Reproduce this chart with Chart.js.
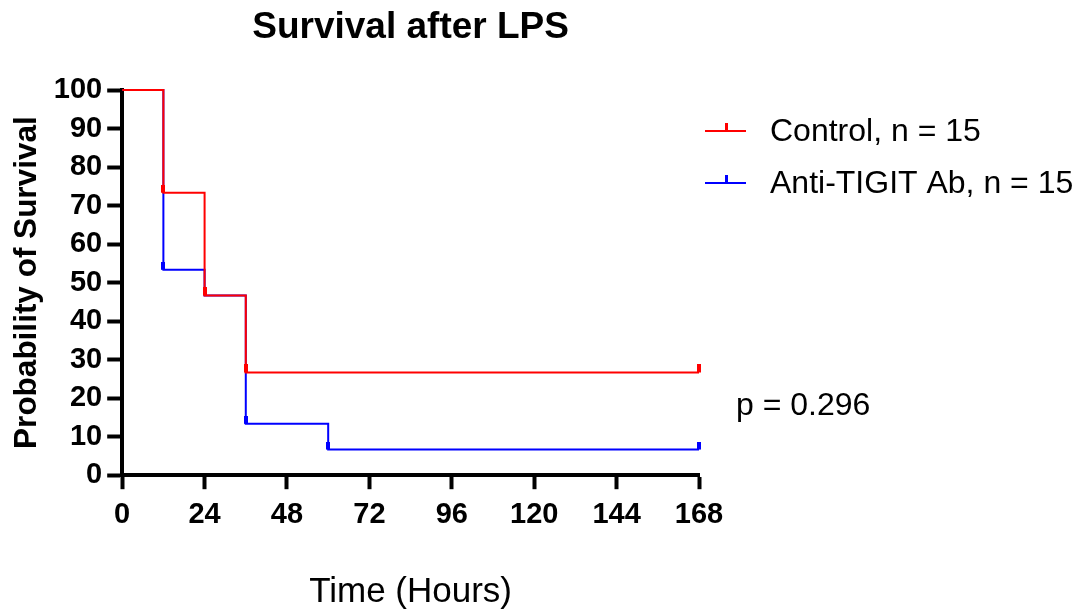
<!DOCTYPE html>
<html>
<head>
<meta charset="utf-8">
<script src="https://cdn.jsdelivr.net/npm/chart.js@4"></script>
<style>
  html, body { margin: 0; padding: 0; background: #fff; }
  #wrap { width: 1075px; height: 616px; }
</style>
</head>
<body>
<div id="wrap"><canvas id="survivalChart" width="1075" height="616"></canvas></div>
<script>
// Kaplan-Meier steps (hours, % surviving)
const controlTimes = [0, 12, 24, 36, 168];
const controlSurvival = [100, 73.33, 46.67, 26.67, 26.67];
const antiTimes = [0, 12, 24, 36, 60, 168];
const antiSurvival = [100, 53.33, 46.67, 13.33, 6.67, 6.67];

const seriesLabels = ['Control, n = 15', 'Anti-TIGIT Ab, n = 15'];
const seriesColors = ['#ff0000', '#0000ff'];
const pValueText = 'p = 0.296';

const xTicks = [0, 24, 48, 72, 96, 120, 144, 168];
const yTicks = [0, 10, 20, 30, 40, 50, 60, 70, 80, 90, 100];

const FONT = "'Liberation Sans', Arial, Helvetica, sans-serif";

// censor tick: small bar sitting on top of the line
function censorMark(color) {
  const c = document.createElement('canvas');
  c.width = 4;
  c.height = 16;
  const g = c.getContext('2d');
  g.fillStyle = color;
  g.fillRect(0, 0, 4, 8);
  return c;
}

function toPoints(xs, ys) {
  return xs.map((x, i) => ({ x: x, y: ys[i] }));
}

const sideNotes = {
  id: 'sideNotes',
  afterDraw(chart) {
    const { ctx, chartArea } = chart;
    const r = chartArea.right;
    const rows = [chartArea.top + 41, chartArea.top + 93];
    ctx.save();
    seriesLabels.forEach((label, i) => {
      const y = rows[i];
      ctx.strokeStyle = seriesColors[i];
      ctx.lineWidth = 2;
      ctx.beginPath();
      ctx.moveTo(r + 6, y);
      ctx.lineTo(r + 47, y);
      ctx.stroke();
      ctx.fillStyle = seriesColors[i];
      ctx.fillRect(r + 26, y - 8, 3, 8);
      ctx.fillStyle = '#000';
      ctx.font = '32px ' + FONT;
      ctx.textBaseline = 'middle';
      ctx.textAlign = 'left';
      ctx.fillText(label, r + 71, y + 1);
    });
    ctx.font = '32px ' + FONT;
    ctx.textBaseline = 'middle';
    ctx.fillText(pValueText, r + 37, chartArea.top + 316);
    ctx.restore();
  }
};

new Chart(document.getElementById('survivalChart'), {
  type: 'line',
  data: {
    datasets: [
      {
        label: seriesLabels[0],
        data: toPoints(controlTimes, controlSurvival),
        borderColor: seriesColors[0],
        backgroundColor: seriesColors[0],
        borderWidth: 2,
        stepped: true,
        pointStyle: censorMark(seriesColors[0]),
        pointRadius: ctx => ctx.dataIndex === 0 ? 0 : 4,
        clip: false
      },
      {
        label: seriesLabels[1],
        data: toPoints(antiTimes, antiSurvival),
        borderColor: seriesColors[1],
        backgroundColor: seriesColors[1],
        borderWidth: 2,
        stepped: true,
        pointStyle: censorMark(seriesColors[1]),
        pointRadius: ctx => ctx.dataIndex === 0 ? 0 : 4,
        clip: false
      }
    ]
  },
  options: {
    responsive: false,
    animation: false,
    devicePixelRatio: 1,
    layout: {
      padding: { left: 0, right: 376, top: 0, bottom: 0 }
    },
    plugins: {
      legend: { display: false },
      tooltip: { enabled: false },
      title: {
        display: true,
        fullSize: false,
        text: 'Survival after LPS',
        color: '#000',
        font: { family: FONT, size: 37, weight: 'bold' },
        padding: { top: 6, bottom: 39.6 }
      }
    },
    scales: {
      x: {
        type: 'linear',
        min: 0,
        max: 168,
        afterBuildTicks: axis => { axis.ticks = xTicks.map(v => ({ value: v })); },
        border: { display: true, color: '#000', width: 4 },
        grid: { drawOnChartArea: false, tickLength: 14, tickWidth: 4, tickColor: '#000' },
        ticks: {
          color: '#000',
          padding: 8,
          maxRotation: 0,
          font: { family: FONT, size: 29, weight: 'bold' }
        },
        title: {
          display: true,
          text: 'Time (Hours)',
          color: '#000',
          font: { family: FONT, size: 35 },
          padding: { top: 31, bottom: 3 }
        }
      },
      y: {
        min: 0,
        max: 100,
        afterBuildTicks: axis => { axis.ticks = yTicks.map(v => ({ value: v })); },
        border: { display: true, color: '#000', width: 4 },
        grid: { drawOnChartArea: false, tickLength: 15, tickWidth: 4, tickColor: '#000' },
        ticks: {
          color: '#000',
          padding: 5,
          font: { family: FONT, size: 29, weight: 'bold' }
        },
        title: {
          display: true,
          text: 'Probability of Survival',
          color: '#000',
          font: { family: FONT, size: 31.5, weight: 'bold' },
          padding: { top: 8, bottom: 3 }
        }
      }
    }
  },
  plugins: [sideNotes]
});
</script>
</body>
</html>
